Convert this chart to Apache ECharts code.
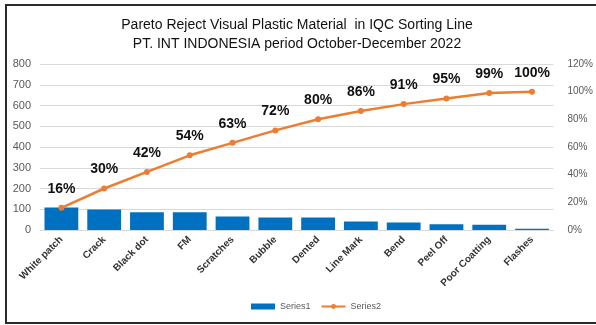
<!DOCTYPE html>
<html>
<head>
<meta charset="utf-8">
<script src="https://cdn.jsdelivr.net/npm/echarts@6/dist/echarts.min.js"></script>
<style>
  html, body { margin: 0; padding: 0; background: #fff; }
  #frame {
    position: absolute; left: 5px; top: 4px; width: 600px; height: 320px;
    border: 2px solid #2b2b2b; box-sizing: border-box;
  }
  #chart { position: absolute; left: 0; top: 0; width: 596px; height: 325px; }
</style>
</head>
<body>
<div id="frame"></div>
<div id="chart"></div>
<script>
// Reject categories, sorted by count
const categories = ['White patch', 'Crack', 'Black dot', 'FM', 'Scratches', 'Bubble',
  'Dented', 'Line Mark', 'Bend', 'Peel Off', 'Poor Coatting', 'Flashes'];
// Reject counts per category
const rejectCounts = [109, 99, 86, 86, 65, 60, 60, 41, 36, 28, 25, 6];
// Cumulative share (%)
const cumulativePct = [16, 30, 42, 54, 63, 72, 80, 86, 91, 95, 99, 100];
// Axis ranges
const countTicks = { min: 0, max: 800, step: 100 };
const pctTicks = { min: 0, max: 120, step: 20 };

const chart = echarts.init(document.getElementById('chart'), null, { renderer: 'canvas' });
const fontFamily = '"Liberation Sans", Arial, sans-serif';

chart.setOption({
  animation: false,
  backgroundColor: 'transparent',
  title: {
    text: 'Pareto Reject Visual Plastic Material  in IQC Sorting Line\nPT. INT INDONESIA period October-December 2022',
    left: 292, textAlign: 'center', top: 11,
    textStyle: { fontFamily, fontSize: 14, fontWeight: 'normal', color: '#111', lineHeight: 19 }
  },
  legend: {
    bottom: 9, left: 246,
    itemWidth: 24, itemHeight: 6, itemGap: 10,
    textStyle: { fontFamily, fontSize: 9, color: '#595959' },
    data: [{ name: 'Series1', icon: 'rect' }, { name: 'Series2' }]
  },
  grid: { left: 40, right: 38, top: 64, bottom: 95, containLabel: false },
  xAxis: {
    type: 'category', data: categories,
    axisTick: { show: false },
    axisLine: { lineStyle: { color: '#d9d9d9', width: 1 } },
    axisLabel: {
      rotate: 45, interval: 0, margin: 8,
      fontFamily, fontSize: 10, fontWeight: 'bold', color: '#333'
    }
  },
  yAxis: [
    {
      type: 'value', min: countTicks.min, max: countTicks.max, interval: countTicks.step,
      axisLine: { show: false }, axisTick: { show: false },
      axisLabel: { fontFamily, fontSize: 11, color: '#595959', margin: 9 },
      splitLine: { lineStyle: { color: '#d9d9d9', width: 1 } }
    },
    {
      type: 'value', min: pctTicks.min, max: pctTicks.max, interval: pctTicks.step,
      axisLine: { show: false }, axisTick: { show: false },
      axisLabel: { fontFamily, fontSize: 10, color: '#595959', margin: 14, formatter: '{value}%' },
      splitLine: { show: false }
    }
  ],
  series: [
    {
      name: 'Series1', type: 'bar', data: rejectCounts, yAxisIndex: 0,
      barCategoryGap: '21%',
      itemStyle: { color: '#0070C0' }
    },
    {
      name: 'Series2', type: 'line', data: cumulativePct, yAxisIndex: 1,
      symbol: 'circle', symbolSize: 6,
      lineStyle: { color: '#ED7D31', width: 2.5 },
      itemStyle: { color: '#ED7D31' },
      label: {
        show: true, position: 'top', distance: 9,
        formatter: '{c}%',
        fontFamily, fontSize: 14, fontWeight: 'bold', color: '#111'
      }
    }
  ]
});
</script>
</body>
</html>
